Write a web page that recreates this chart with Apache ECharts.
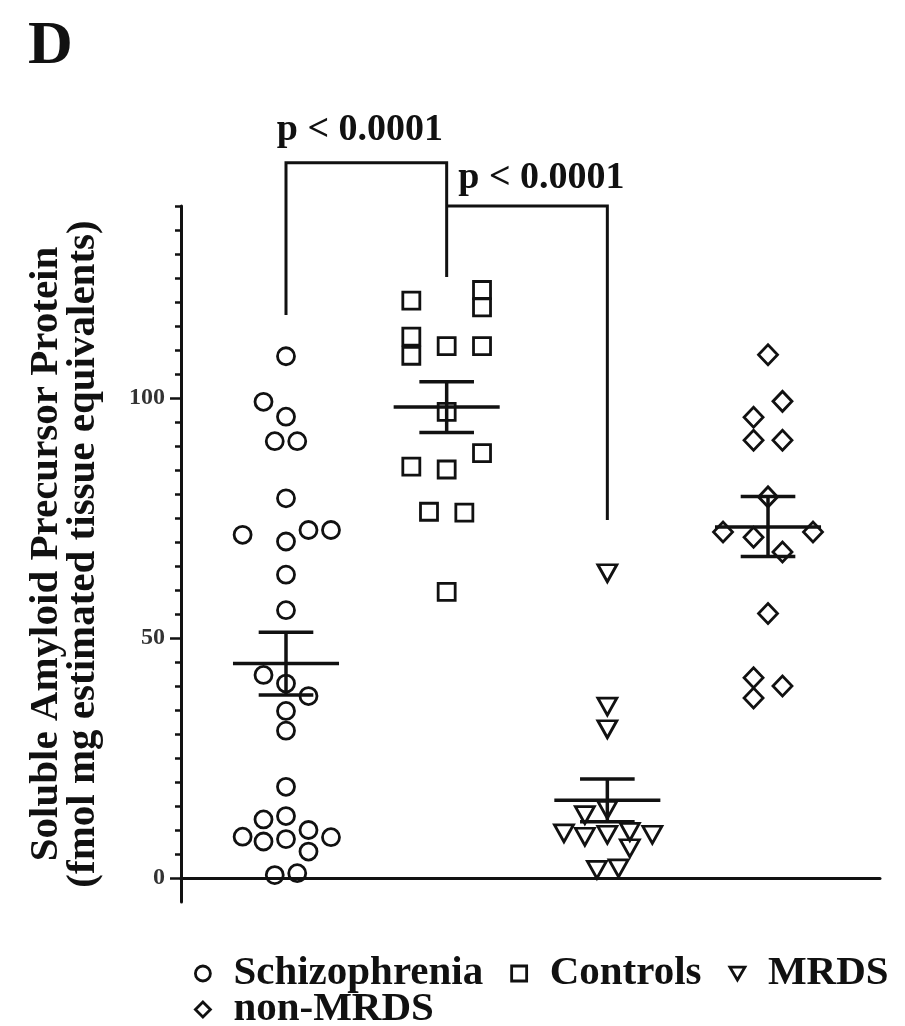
<!DOCTYPE html>
<html>
<head>
<meta charset="utf-8">
<title>Soluble APP</title>
<script src="https://cdn.jsdelivr.net/npm/echarts@6/dist/echarts.min.js"></script>
<style>
  html, body { margin: 0; background: #fff; }
  #main { width: 905px; height: 1026px; }
</style>
</head>
<body>
<div id="main"></div>
<script>
// groups, left to right
var groupNames = ['Schizophrenia', 'Controls', 'MRDS', 'non-MRDS'];

// individual values (fmol/mg), with horizontal spread in category units
var schizoValues = [108.7, 99.2, 96.1, 91.0, 91.0, 79.1, 71.5, 70.1, 72.5, 72.5, 63.2, 55.8, 42.3, 40.5, 37.9, 34.8, 30.7, 19.0, 12.2, 12.9, 8.6, 7.6, 8.1, 10.0, 8.5, 5.5, 0.6, 1.0];
var schizoJitter = [0, -0.14, 0, -0.07, 0.07, 0, -0.27, 0, 0.14, 0.28, 0, 0, -0.14, 0, 0.14, 0, 0, 0, -0.14, 0, -0.27, -0.14, 0, 0.14, 0.28, 0.14, -0.07, 0.07];

var controlsValues = [120.3, 122.5, 118.9, 112.8, 108.8, 110.8, 110.8, 97.1, 88.5, 85.7, 85.1, 76.3, 76.1, 59.6];
var controlsJitter = [-0.22, 0.22, 0.22, -0.22, -0.22, 0, 0.22, 0, 0.22, -0.22, 0, -0.11, 0.11, 0];

var mrdsValues = [63.5, 35.7, 31.0, 14.2, 13.1, 9.3, 8.6, 9.0, 9.6, 9.0, 6.2, 1.7, 2.0];
var mrdsJitter = [0, 0, 0, 0, -0.14, -0.27, -0.14, 0, 0.14, 0.28, 0.14, -0.065, 0.07];

var nonMrdsValues = [109.0, 99.3, 96.0, 91.2, 91.2, 79.4, 72.1, 72.1, 71.0, 67.9, 55.1, 41.7, 40.0, 37.5];
var nonMrdsJitter = [0, 0.09, -0.09, -0.09, 0.09, 0, -0.28, 0.28, -0.09, 0.09, 0, -0.09, 0.09, -0.09];

// mean +/- SEM as drawn
var groupMeans = [44.7, 98.1, 16.2, 73.1];
var semHigh = [51.2, 103.4, 20.6, 79.5];
var semLow = [38.1, 92.8, 11.7, 67.0];

// y axis labels
var yTickLabels = [0, 50, 100];

// significance brackets: from group, to group, p text
var bracketFrom = [0, 1];
var bracketTo = [1, 2];
var pLabels = ['p < 0.0001', 'p < 0.0001'];

var serif = "'Liberation Serif', 'Times New Roman', serif";
var ink = '#111';

function points(values, jitter, groupIdx) {
    var out = [];
    for (var i = 0; i < values.length; i++) {
        out.push([groupIdx + jitter[i], values[i]]);
    }
    return out;
}

var minorTicks = [];
for (var t = 0; t <= 140; t += 5) minorTicks.push(t);

// bracket geometry (y in data units, label anchor)
var bracketTop = [149, 140];
var bracketLeftEnd = [117.3, 140];
var bracketRightEnd = [125.2, 74.6];
var bracketLabelAt = [[0.46, 155.8], [1.59, 145.8]];

var bracketData = bracketFrom.map(function (f, i) {
    return [f, bracketTo[i], bracketTop[i], bracketLeftEnd[i], bracketRightEnd[i], bracketLabelAt[i][0], bracketLabelAt[i][1]];
});

var statData = groupMeans.map(function (m, i) {
    return [i, m, semHigh[i], semLow[i]];
});

var meanHalf = 0.33, capHalf = 0.17;

function lineEl(a, b) {
    return {
        type: 'line',
        shape: { x1: a[0], y1: a[1], x2: b[0], y2: b[1] },
        style: { stroke: ink, lineWidth: 3.5 }
    };
}

function renderStat(params, api) {
    var x = api.value(0), m = api.value(1), hi = api.value(2), lo = api.value(3);
    return {
        type: 'group',
        children: [
            lineEl(api.coord([x - meanHalf, m]), api.coord([x + meanHalf, m])),
            lineEl(api.coord([x, lo]), api.coord([x, hi])),
            lineEl(api.coord([x - capHalf, hi]), api.coord([x + capHalf, hi])),
            lineEl(api.coord([x - capHalf, lo]), api.coord([x + capHalf, lo]))
        ]
    };
}

function renderBracket(params, api) {
    var x1 = api.value(0), x2 = api.value(1), top = api.value(2);
    var pts = [
        api.coord([x1, api.value(3)]),
        api.coord([x1, top]),
        api.coord([x2, top]),
        api.coord([x2, api.value(4)])
    ];
    var lab = api.coord([api.value(5), api.value(6)]);
    return {
        type: 'group',
        children: [{
            type: 'polyline',
            shape: { points: pts },
            style: { stroke: ink, lineWidth: 3, fill: null }
        }, {
            type: 'text',
            style: {
                text: pLabels[params.dataIndex],
                x: lab[0], y: lab[1],
                align: 'center', verticalAlign: 'middle',
                font: 'bold 38px ' + serif,
                fill: ink
            }
        }]
    };
}

var markerStyle = { color: 'rgba(255,255,255,0)', borderColor: ink, borderWidth: 2.8, opacity: 1 };

var chart = echarts.init(document.getElementById('main'));

var legendText = { fontFamily: serif, fontWeight: 'bold', fontSize: 41, color: ink, padding: [0, 0, 0, 18] };

var option = {
    backgroundColor: '#fff',
    animation: false,
    title: {
        text: 'D',
        left: 28, top: 16,
        padding: 0,
        textStyle: { fontFamily: serif, fontWeight: 'bold', fontSize: 62, color: ink }
    },
    legend: [{
        data: groupNames.slice(0, 3),
        left: 189, top: 948,
        itemWidth: 15, itemHeight: 15, itemGap: 27,
        itemStyle: { borderWidth: 2.8, borderColor: ink },
        textStyle: legendText
    }, {
        data: groupNames.slice(3),
        left: 189, top: 984,
        itemWidth: 15, itemHeight: 15,
        itemStyle: { borderWidth: 2.8, borderColor: ink },
        textStyle: legendText
    }],
    grid: { left: 181, right: 25, top: 206, bottom: 124 },
    xAxis: {
        type: 'value',
        min: -0.6535, max: 3.697,
        axisLine: { show: true, onZero: true, lineStyle: { color: ink, width: 3 } },
        axisTick: { show: false },
        axisLabel: { show: false },
        splitLine: { show: false }
    },
    yAxis: [{
        type: 'value',
        min: -5, max: 140, interval: 5,
        axisLine: { show: true, onZero: false, lineStyle: { color: ink, width: 3 } },
        axisTick: { show: true, length: 6, customValues: minorTicks, lineStyle: { color: ink, width: 2.5 } },
        axisLabel: {
            customValues: yTickLabels, margin: 16,
            fontFamily: serif, fontWeight: 'bold', fontSize: 24, color: '#333'
        },
        splitLine: { show: false },
        name: 'Soluble Amyloid Precursor Protein\n(fmol mg estimated tissue equivalents)',
        nameLocation: 'middle',
        nameRotate: 90,
        nameGap: 79,
        nameTextStyle: { fontFamily: serif, fontWeight: 'bold', fontSize: 41, lineHeight: 37, color: ink }
    }, {
        type: 'value',
        min: -5, max: 140, interval: 5,
        position: 'left',
        axisLine: { show: false, onZero: false },
        axisTick: { show: true, length: 11, customValues: yTickLabels, lineStyle: { color: ink, width: 2.5 } },
        axisLabel: { show: false },
        splitLine: { show: false }
    }],
    series: [{
        name: groupNames[0], type: 'scatter',
        symbol: 'circle', symbolSize: 17,
        itemStyle: markerStyle,
        data: points(schizoValues, schizoJitter, 0)
    }, {
        name: groupNames[1], type: 'scatter',
        symbol: 'rect', symbolSize: 17,
        itemStyle: markerStyle,
        data: points(controlsValues, controlsJitter, 1)
    }, {
        name: groupNames[2], type: 'scatter',
        symbol: 'path://M0,0L20,0L10,17Z', symbolSize: [19, 17],
        itemStyle: markerStyle,
        data: points(mrdsValues, mrdsJitter, 2)
    }, {
        name: groupNames[3], type: 'scatter',
        symbol: 'diamond', symbolSize: [19, 20],
        itemStyle: markerStyle,
        data: points(nonMrdsValues, nonMrdsJitter, 3)
    }, {
        type: 'custom',
        silent: true,
        z: 5,
        renderItem: renderStat,
        data: statData
    }, {
        type: 'custom',
        silent: true,
        clip: false,
        z: 5,
        renderItem: renderBracket,
        data: bracketData
    }]
};

chart.setOption(option);
</script>
</body>
</html>
